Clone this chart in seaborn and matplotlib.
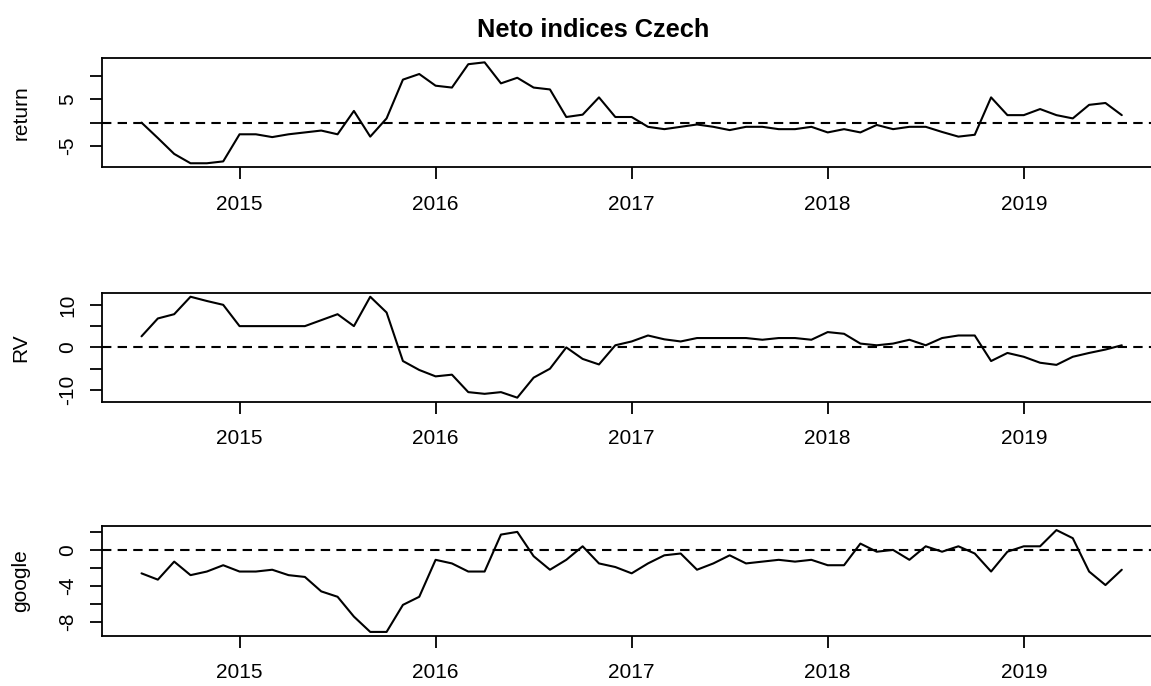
import matplotlib
matplotlib.use("Agg")
import matplotlib.pyplot as plt
import seaborn as sns
import numpy as np
import pandas as pd

# monthly series, first observation July 2014
start_year = 2014
start_month = 7

ret = [0.0, -3.3, -6.7, -8.7, -8.7, -8.3,
       -2.5, -2.5, -3.1, -2.5, -2.1, -1.7, -2.5, 2.5, -3.0, 0.9, 9.2, 10.4,
       7.9, 7.5, 12.5, 12.9, 8.4, 9.6, 7.5, 7.1, 1.2, 1.7, 5.4, 1.2,
       1.2, -0.9, -1.4, -0.9, -0.4, -0.9, -1.6, -0.9, -0.9, -1.4, -1.4, -0.9,
       -2.1, -1.4, -2.1, -0.5, -1.4, -0.9, -0.9, -2.0, -3.0, -2.6, 5.4, 1.6,
       1.6, 2.9, 1.6, 0.9, 3.8, 4.2, 1.6]

rv = [2.6, 6.8, 7.8, 11.9, 10.9, 10.0,
      5.0, 5.0, 5.0, 5.0, 5.0, 6.4, 7.8, 5.0, 11.9, 8.2, -3.2, -5.3,
      -6.8, -6.4, -10.5, -10.9, -10.5, -11.8, -7.1, -5.0, 0.0, -2.7, -4.0, 0.5,
      1.4, 2.8, 1.9, 1.4, 2.2, 2.2, 2.2, 2.2, 1.8, 2.2, 2.2, 1.8,
      3.6, 3.2, 0.9, 0.5, 0.9, 1.8, 0.5, 2.2, 2.8, 2.8, -3.2, -1.3,
      -2.2, -3.6, -4.1, -2.2, -1.3, -0.5, 0.5]

google = [-2.6, -3.3, -1.3, -2.8, -2.4, -1.7,
          -2.4, -2.4, -2.2, -2.8, -3.0, -4.6, -5.2, -7.4, -9.1, -9.1, -6.1, -5.2,
          -1.1, -1.5, -2.4, -2.4, 1.7, 2.0, -0.7, -2.2, -1.1, 0.4, -1.5, -1.9,
          -2.6, -1.5, -0.6, -0.4, -2.2, -1.5, -0.6, -1.5, -1.3, -1.1, -1.3, -1.1,
          -1.7, -1.7, 0.7, -0.2, 0.0, -1.1, 0.4, -0.2, 0.4, -0.4, -2.4, -0.2,
          0.4, 0.4, 2.2, 1.3, -2.4, -3.9, -2.2]

series_names = ["return", "RV", "google"]
year_ticks = [2015, 2016, 2017, 2018, 2019]
return_ticks = [-5, 0, 5, 10]
return_ticklabels = ["-5", "", "5", ""]
rv_ticks = [-10, -5, 0, 5, 10]
rv_ticklabels = ["-10", "", "0", "", "10"]
google_ticks = [-8, -6, -4, -2, 0, 2]
google_ticklabels = ["-8", "", "-4", "", "0", ""]

time = start_year + (start_month - 1) / 12 + np.arange(len(ret)) / 12
df = pd.DataFrame({"time": time, "return": ret, "RV": rv, "google": google})

sns.set_style("white")
plt.rcParams["font.family"] = ["Liberation Sans", "DejaVu Sans"]
for key in ["text.color", "axes.labelcolor", "xtick.color", "ytick.color", "axes.edgecolor"]:
    plt.rcParams[key] = "black"

W, H = 1151, 686
fig = plt.figure(figsize=(W / 100, H / 100), dpi=100)

# panel boxes in pixels (top, bottom); the right edge runs past the image like the source
left_px, right_px = 102.3, 1161
boxes = [(58.3, 167.3), (292.7, 401.7), (526, 636)]
ticks = [return_ticks, rv_ticks, google_ticks]
ticklabels = [return_ticklabels, rv_ticklabels, google_ticklabels]


def r_range(v):
    # R style axis range, 4% padding each side
    lo, hi = float(np.min(v)), float(np.max(v))
    d = 0.04 * (hi - lo)
    return lo - d, hi + d


for name, (top, bot), tk, tl in zip(series_names, boxes, ticks, ticklabels):
    ax = fig.add_axes([left_px / W, 1 - bot / H, (right_px - left_px) / W, (bot - top) / H])
    sns.lineplot(data=df, x="time", y=name, ax=ax, color="black", lw=1.5)
    ax.axhline(0, color="black", lw=1.5, ls=(0, (4.5, 3)))
    ax.set_xlim(*r_range(df["time"]))
    ax.set_ylim(*r_range(df[name]))
    ax.set_xticks(year_ticks)
    ax.set_xticklabels([str(y) for y in year_ticks], fontsize=15)
    ax.set_yticks(tk)
    ax.set_yticklabels(tl, fontsize=15)
    plt.setp(ax.get_yticklabels(), rotation=90, ha="center", va="center")
    ax.tick_params(axis="x", direction="out", length=8.8, width=1.3, pad=11, bottom=True)
    ax.tick_params(axis="y", direction="out", length=8.4, width=1.3, pad=16.3, left=True)
    for s in ax.spines.values():
        s.set_color("black")
        s.set_linewidth(1.3)
    ax.set_xlabel("")
    ax.set_ylabel(name, fontsize=15, va="center")
    ax.yaxis.set_label_coords((20.7 - left_px) / (right_px - left_px), 0.5)
    ax.grid(False)

fig.text(593.5 / W, 1 - 36.7 / H, "Neto indices Czech", ha="center", va="baseline",
         fontsize=18.3, fontweight="bold")

fig.savefig("out.png", dpi=100)
